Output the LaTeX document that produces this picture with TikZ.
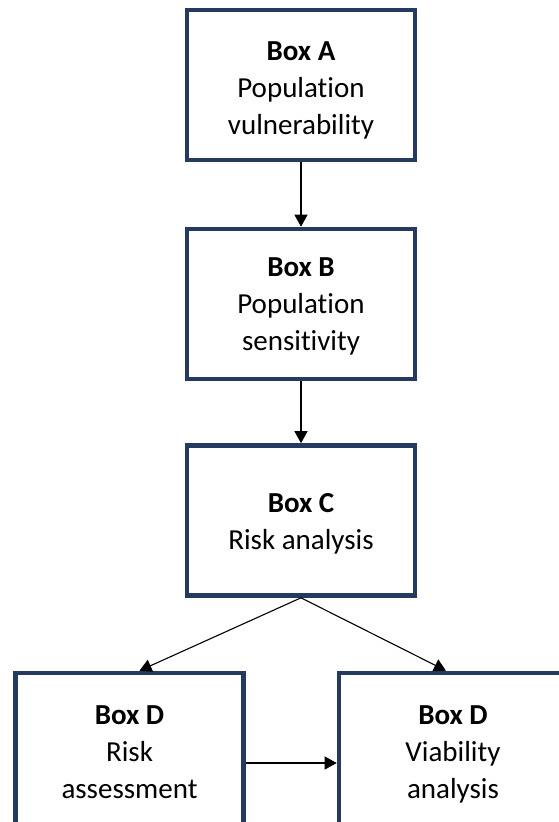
\documentclass[tikz,border=0pt]{standalone}
\usepackage{fontspec}
\setmainfont[Ligatures=NoCommon]{Carlito}
\usepackage{tikz}
\usetikzlibrary{arrows.meta}
\definecolor{BoxBlue}{RGB}{36,58,94}
\tikzset{flow box/.style={draw=BoxBlue, line width=4.6pt, fill=white, inner sep=0pt, minimum height=150pt, minimum width=228pt}}
\tikzset{flow text/.style={inner sep=0pt, align=center, font=\fontsize{29}{37}\selectfont}}
\tikzset{flow arrow/.style={draw, line width=1.1pt, -{Triangle[length=12pt, width=13pt]}}}

\begin{document}
\begin{tikzpicture}[x=1pt, y=-1pt]
\useasboundingbox (0,0) rectangle (559,822);

\node[flow box] (boxA) at (301,85) {};
\node[flow text] (textA) at (301,90) {\textbf{Box A}\\Population\\vulnerability};
\node[flow box] (boxB) at (301,304) {};
\node[flow text] (textB) at (301,306) {\textbf{Box B}\\Population\\sensitivity};
\node[flow box] (boxC) at (301,520.5) {};
\node[flow text] (textC) at (301,523.5) {\textbf{Box C}\\Risk analysis};
\node[flow box, minimum height=156pt] (boxDrisk) at (129.5,751) {};
\node[flow text] (textDrisk) at (129.5,752) {\textbf{Box D}\\Risk\\assessment};
\node[flow box, minimum height=156pt] (boxDviab) at (453,751) {};
\node[flow text] (textDviab) at (453,754) {\textbf{Box D}\\Viability\\analysis};

%\draw[help lines] (0,0) grid[step=50] (559,822);

\draw[flow arrow] (boxA.south) -- (boxB.north);
\draw[flow arrow] (boxB.south) -- (boxC.north);
\draw[flow arrow] (boxC.south) -- ([xshift=10pt]boxDrisk.north);
\draw[flow arrow] (boxC.south) -- ([xshift=-7pt]boxDviab.north);
\draw[flow arrow] ([yshift=-12pt]boxDrisk.east) -- ([yshift=-12pt]boxDrisk.east -| boxDviab.west);

\end{tikzpicture}
\end{document}
